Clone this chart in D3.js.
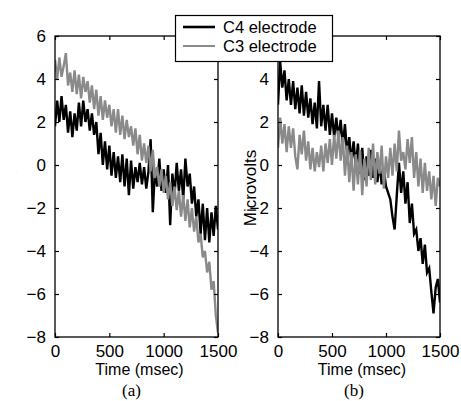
<!DOCTYPE html>
<html>
<head>
<meta charset="utf-8">
<script src="https://cdn.jsdelivr.net/npm/d3@7"></script>
<style>
  html, body { margin: 0; padding: 0; background: #fff; }
  svg { display: block; }
</style>
</head>
<body>
<div id="chart"></div>
<script>
// sampled every 20 ms, 0..1500
const timeStep = 20
const xTicks = [0, 500, 1000, 1500]
const yTicks = [-8, -6, -4, -2, 0, 2, 4, 6]
const seriesNames = ["C4 electrode", "C3 electrode"]
const panelLabels = ["(a)", "(b)"]

const aC4 = [
  1.8, 3.0, 2.0, 3.2, 2.1, 2.8, 1.5, 2.5, 1.3, 2.4,
  1.6, 2.9, 1.8, 3.0, 2.0, 2.6, 1.6, 2.4, 1.4, 2.0,
  0.5, 1.5, 0.0, 1.1, -0.2, 0.9, -0.5, 0.6, -0.6, 0.4,
  -0.8, 0.5, -1.0, 0.3, -1.4, 0.2, -1.1, -0.1, -0.8, 0.1,
  -0.9, -0.1, -1.1, -0.3, 1.2, -2.2, -0.2, -1.0, 0.3, -1.2,
  -0.2, -1.3, 0.0, -2.8, -0.4, -1.4, 0.1, -1.2, -0.2, -1.6,
  0.3, -1.0, -0.4, -1.8, -1.0, -2.4, -1.6, -3.2, -1.8, -3.5,
  -2.0, -3.6, -2.2, -3.3, -1.9, -3.0
]
const aC3 = [
  4.9, 4.0, 5.0, 4.1, 4.6, 5.2, 3.7, 4.3, 3.4, 4.4,
  3.3, 4.2, 3.1, 4.1, 3.4, 3.9, 2.9, 3.7, 2.6, 3.5,
  2.3, 3.2, 2.1, 3.0, 2.2, 2.8, 1.8, 2.6, 1.5, 2.6,
  1.4, 2.3, 1.2, 2.1, 1.3, 1.8, 0.9, 1.7, 0.5, 1.4,
  0.2, 1.0, 0.1, 0.9, -0.3, 0.7, -0.6, -0.1, -1.0, -0.2,
  -1.3, -0.5, -1.6, -0.8, -1.9, -1.0, -2.1, -1.2, -2.4, -1.4,
  -2.6, -1.6, -2.9, -2.0, -3.1, -2.4, -3.6, -3.2, -4.3, -4.0,
  -5.0, -4.5, -5.8, -5.4, -7.0, -7.8
]
const bC4 = [
  2.8, 4.8, 3.6, 4.4, 3.0, 4.0, 2.8, 3.9, 2.6, 3.6,
  2.4, 3.7, 2.3, 3.4, 2.2, 3.1, 1.9, 2.9, 1.7, 3.9,
  1.8, 2.8, 1.6, 2.8, 1.4, 2.4, 1.3, 2.2, 1.2, 2.1,
  0.9, 1.9, 0.5, 1.3, 0.1, 1.1, -0.1, 1.0, -0.4, 0.8,
  -0.7, 0.4, -0.5, 0.7, -0.6, 0.3, -0.8, 0.1, -0.9, -0.2,
  -1.0, -1.3, -1.6, -2.4, -3.0, -1.4, 0.1, -1.3, -0.3, -1.8,
  -0.8, -2.7, -1.8, -3.2, -3.0, -4.0, -3.4, -4.6, -3.7, -5.0,
  -4.8, -5.9, -6.9, -5.7, -5.3, -6.4
]
const bC3 = [
  0.8, 2.2, 1.0, 1.9, 0.6, 1.8, 0.8, 1.7, 0.4, -0.2,
  1.4, 0.5, 1.6, 0.2, 1.1, -0.2, 0.8, -0.3, 0.6, -0.1,
  0.9, -0.3, 1.0, 0.1, 1.2, 0.0, 1.4, 0.3, 1.6, 0.2,
  1.3, -0.5, 0.9, -0.8, 0.6, -1.2, 0.5, -0.9, 0.7, -1.4,
  0.3, -1.0, 0.8, -0.7, 1.0, -0.9, 0.6, -0.4, 0.9, -1.1,
  0.4, -0.6, 0.8, -0.5, 1.0, -0.3, 1.6, 0.2, 0.6, -0.2,
  1.2, 0.1, 1.3, -0.6, 0.6, -1.0, 0.3, -1.3, 0.1, -1.2,
  -0.3, -1.6, -0.5, -1.9, -0.6, -1.0
]

const width = 461
const height = 401
const font = "'Liberation Sans', Arial, Helvetica, sans-serif"
const colors = ["#000000", "#8a8a8a"]

// the legend box hides the top y label of panel (b)
const panels = [
  { left: 55, right: 218, series: [aC4, aC3], label: panelLabels[0], yLabels: yTicks },
  { left: 278, right: 440, series: [bC4, bC3], label: panelLabels[1], yLabels: yTicks.slice(0, -1) }
]
const plotTop = 36
const plotBottom = 337

const svg = d3.select("#chart")
  .append("svg")
  .attr("width", width)
  .attr("height", height)
  .attr("viewBox", `0 0 ${width} ${height}`)

const y = d3.scaleLinear().domain([-8, 6]).range([plotBottom, plotTop])
const fmtY = d => d < 0 ? "\u2212" + Math.abs(d) : String(d)

panels.forEach((p, i) => {
  const x = d3.scaleLinear().domain([0, 1500]).range([p.left, p.right])
  const g = svg.append("g")

  // clip for traces
  const clipId = `clip-${i}`
  svg.append("clipPath").attr("id", clipId)
    .append("rect")
    .attr("x", p.left).attr("y", plotTop)
    .attr("width", p.right - p.left).attr("height", plotBottom - plotTop)

  const line = d3.line()
    .x((d, k) => x(k * timeStep))
    .y(d => y(d))

  p.series.forEach((s, k) => {
    g.append("path")
      .datum(s)
      .attr("clip-path", `url(#${clipId})`)
      .attr("fill", "none")
      .attr("stroke", colors[k])
      .attr("stroke-width", 2.4)
      .attr("d", line)
  })

  // box and inward ticks on all four sides
  g.append("g")
    .attr("transform", `translate(0,${plotBottom})`)
    .call(d3.axisBottom(x).tickValues(xTicks).tickSizeInner(-4).tickSizeOuter(0).tickPadding(8)
      .tickFormat(d3.format("d")))
    .call(a => a.select(".domain").remove())
  g.append("g")
    .attr("transform", `translate(0,${plotTop})`)
    .call(d3.axisTop(x).tickValues(xTicks).tickSizeInner(-4).tickSizeOuter(0).tickFormat(""))
    .call(a => a.select(".domain").remove())
  g.append("g")
    .attr("transform", `translate(${p.left},0)`)
    .call(d3.axisLeft(y).tickValues(yTicks).tickSizeInner(-4).tickSizeOuter(0).tickPadding(9)
      .tickFormat(d => p.yLabels.includes(d) ? fmtY(d) : ""))
    .call(a => a.select(".domain").remove())
  g.append("g")
    .attr("transform", `translate(${p.right},0)`)
    .call(d3.axisRight(y).tickValues(yTicks).tickSizeInner(-4).tickSizeOuter(0).tickFormat(""))
    .call(a => a.select(".domain").remove())

  g.selectAll(".tick line").attr("stroke", "#000").attr("stroke-width", 1.2)
  g.selectAll(".tick text")
    .attr("font-family", font)
    .attr("font-size", 17)
    .attr("fill", "#000")

  g.append("rect")
    .attr("x", p.left).attr("y", plotTop)
    .attr("width", p.right - p.left).attr("height", plotBottom - plotTop)
    .attr("fill", "none")
    .attr("stroke", "#000")
    .attr("stroke-width", 1.3)

  const cx = (p.left + p.right) / 2
  g.append("text")
    .attr("x", cx + 3).attr("y", 375)
    .attr("text-anchor", "middle")
    .attr("font-family", font)
    .attr("font-size", 16)
    .text("Time (msec)")

  g.append("text")
    .attr("x", cx - 5).attr("y", 396)
    .attr("text-anchor", "middle")
    .attr("font-family", "'Liberation Serif', 'Times New Roman', serif")
    .attr("font-size", 17)
    .text(p.label)
})

// y label of (b)
svg.append("text")
  .attr("transform", "translate(256,188) rotate(-90)")
  .attr("text-anchor", "middle")
  .attr("font-family", font)
  .attr("font-size", 17)
  .text("Microvolts")

// y label of (a) is cut off; only a sliver shows
svg.append("clipPath").attr("id", "ylab-clip")
  .append("rect").attr("x", 12.5).attr("y", 0).attr("width", 3).attr("height", height)
svg.append("text")
  .attr("clip-path", "url(#ylab-clip)")
  .attr("transform", "translate(16,188) rotate(-90)")
  .attr("text-anchor", "middle")
  .attr("font-family", font)
  .attr("font-size", 17)
  .text("Microvolts")

// legend
const legend = svg.append("g")
legend.append("rect")
  .attr("x", 175.5).attr("y", 15.5)
  .attr("width", 157).attr("height", 46)
  .attr("fill", "#fff")
  .attr("stroke", "#000")
  .attr("stroke-width", 1.2)

seriesNames.forEach((name, k) => {
  const ly = 27 + k * 19
  legend.append("line")
    .attr("x1", 183).attr("x2", 215)
    .attr("y1", ly).attr("y2", ly)
    .attr("stroke", colors[k])
    .attr("stroke-width", k === 0 ? 2.6 : 2)
  legend.append("text")
    .attr("x", 223).attr("y", ly + 6)
    .attr("font-family", font)
    .attr("font-size", 16.5)
    .text(name)
})
</script>
</body>
</html>
